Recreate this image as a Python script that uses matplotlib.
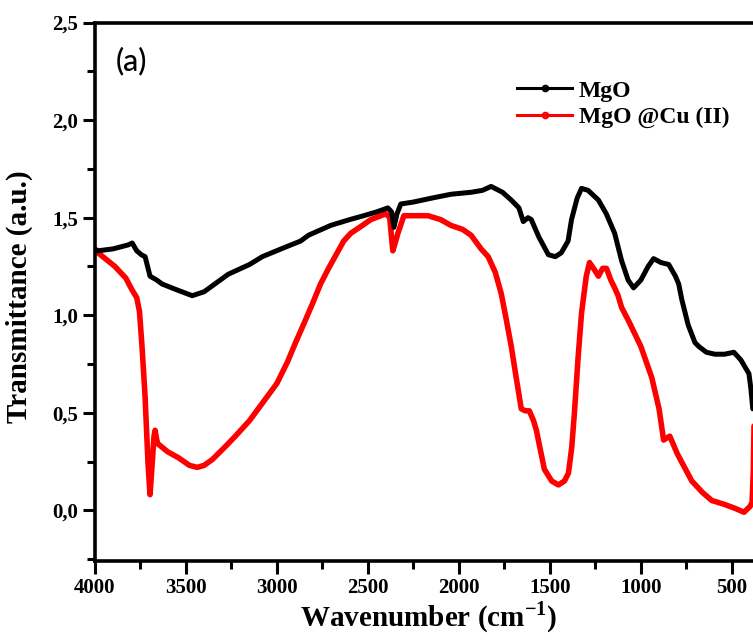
"""FTIR spectra of MgO and MgO@Cu(II), redrawn from the figure (panel a)."""
import matplotlib
matplotlib.use("Agg")
import matplotlib.pyplot as plt
from matplotlib.lines import Line2D
from matplotlib.ticker import MultipleLocator

# values (wavenumber in cm-1, transmittance in a.u.)
mgo_wn = [4000, 3983, 3900, 3818, 3795, 3770, 3745, 3724, 3697, 3660, 3631, 3550,
          3465, 3400, 3267, 3150, 3080, 2950, 2870, 2826, 2705, 2600, 2523, 2450,
          2390, 2370, 2357, 2340, 2319, 2250, 2150, 2043, 1933, 1870, 1823, 1760,
          1712, 1670, 1646, 1620, 1602, 1560, 1508, 1470, 1437, 1400, 1381, 1350,
          1326, 1290, 1233, 1190, 1144, 1106, 1070, 1040, 1000, 960, 930, 890,
          847, 810, 792, 775, 740, 703, 682, 640, 593, 540, 489, 450, 406, 395,
          389, 385]
mgo_t = [1.34, 1.33, 1.34, 1.36, 1.37, 1.33, 1.31, 1.30, 1.20, 1.18, 1.16, 1.13,
         1.10, 1.12, 1.21, 1.26, 1.30, 1.35, 1.38, 1.41, 1.46, 1.49, 1.51, 1.53,
         1.55, 1.53, 1.45, 1.52, 1.57, 1.58, 1.60, 1.62, 1.63, 1.64, 1.66, 1.63,
         1.59, 1.55, 1.48, 1.50, 1.49, 1.40, 1.31, 1.30, 1.32, 1.38, 1.49, 1.60,
         1.65, 1.64, 1.59, 1.52, 1.42, 1.28, 1.18, 1.14, 1.18, 1.25, 1.29, 1.27,
         1.26, 1.20, 1.16, 1.08, 0.95, 0.86, 0.84, 0.81, 0.80, 0.80, 0.81, 0.77,
         0.70, 0.62, 0.56, 0.52]

cu_wn = [4000, 3983, 3890, 3830, 3796, 3770, 3755, 3741, 3724, 3708, 3697, 3688,
         3675, 3669, 3660, 3653, 3600, 3542, 3480, 3438, 3400, 3355, 3290, 3228,
         3150, 3079, 3000, 2942, 2897, 2850, 2804, 2760, 2716, 2633, 2594, 2530,
         2484, 2401, 2380, 2363, 2350, 2335, 2302, 2240, 2170, 2100, 2043, 1980,
         1933, 1878, 1839, 1800, 1767, 1740, 1712, 1685, 1657, 1635, 1613, 1590,
         1574, 1550, 1530, 1490, 1453, 1420, 1398, 1380, 1365, 1345, 1326, 1300,
         1282, 1260, 1233, 1210, 1189, 1165, 1144, 1125, 1106, 1067, 1000, 940,
         900, 875, 841, 800, 720, 660, 610, 540, 483, 433, 400, 389, 382, 378]
cu_t = [1.33, 1.32, 1.25, 1.19, 1.13, 1.09, 1.02, 0.84, 0.58, 0.24, 0.08, 0.20,
        0.38, 0.41, 0.36, 0.34, 0.30, 0.27, 0.23, 0.22, 0.23, 0.26, 0.32, 0.38,
        0.46, 0.55, 0.65, 0.76, 0.86, 0.96, 1.06, 1.16, 1.24, 1.38, 1.42, 1.46,
        1.49, 1.52, 1.50, 1.33, 1.37, 1.42, 1.51, 1.51, 1.51, 1.49, 1.46, 1.44,
        1.41, 1.34, 1.30, 1.22, 1.11, 0.98, 0.84, 0.68, 0.52, 0.51, 0.51, 0.46,
        0.41, 0.30, 0.21, 0.15, 0.13, 0.15, 0.19, 0.32, 0.50, 0.78, 1.01, 1.20,
        1.27, 1.24, 1.20, 1.24, 1.24, 1.18, 1.14, 1.10, 1.04, 0.97, 0.84, 0.68,
        0.52, 0.36, 0.38, 0.29, 0.15, 0.09, 0.05, 0.03, 0.01, -0.01, 0.02, 0.04,
        0.20, 0.45]

xticks = [4000, 3500, 3000, 2500, 2000, 1500, 1000, 500]
yticks = [0.0, 0.5, 1.0, 1.5, 2.0, 2.5]
ytick_labels = ["0,0", "0,5", "1,0", "1,5", "2,0", "2,5"]
series_labels = ["MgO", "MgO @Cu (II)"]

SERIF = "Liberation Serif"
plt.rcParams["font.family"] = [SERIF, "DejaVu Serif"]
plt.rcParams["font.weight"] = "bold"
plt.rcParams["mathtext.fontset"] = "custom"
plt.rcParams["mathtext.rm"] = SERIF + ":bold"
plt.rcParams["mathtext.bf"] = SERIF + ":bold"

fig = plt.figure(figsize=(7.53, 6.41), dpi=100)
# the original picture is cropped on the right, so the axes run past the edge
ax = fig.add_axes([0.126, 0.1248, 0.887, 0.840])

ax.plot(cu_wn, cu_t, color="#ff0000", lw=4.0, zorder=2, solid_capstyle="round")
ax.plot(mgo_wn, mgo_t, color="black", lw=3.6, zorder=3, solid_capstyle="round")

ax.set_xlim(4000, 330)
ax.set_ylim(-0.26, 2.5)
ax.set_xticks(xticks)
ax.set_xticklabels([str(v) for v in xticks])
ax.set_yticks(yticks)
ax.set_yticklabels(ytick_labels)
ax.xaxis.set_minor_locator(MultipleLocator(250))
ax.yaxis.set_minor_locator(MultipleLocator(0.25))

for side in ("left", "bottom", "top"):
    ax.spines[side].set_linewidth(2.6)
ax.spines["right"].set_visible(False)
ax.tick_params(which="major", direction="out", length=9, width=2.2,
               labelsize=15, pad=3, top=False, right=False)
ax.tick_params(which="minor", direction="out", length=5.5, width=2.2,
               top=False, right=False)
for lab in ax.get_xticklabels() + ax.get_yticklabels():
    lab.set_fontweight("bold")

ax.set_xlabel(r"Wavenumber (cm$^{\mathbf{-1}}$)", fontsize=21, fontweight="bold",
              labelpad=1)
ax.set_ylabel("Transmittance (a.u.)", fontsize=21, fontweight="bold")
ax.yaxis.set_label_coords(-0.092, 0.49)

ax.text(0.031, 0.928, "(a)", transform=ax.transAxes, fontsize=22,
        family=["Lato", "DejaVu Sans"], fontweight="medium", ha="left", va="center")

handles = [Line2D([], [], color="black", lw=2.2, marker="o", ms=4, mfc="none", mew=1.5),
           Line2D([], [], color="#ff0000", lw=2.2, marker="o", ms=4, mfc="none", mew=1.5)]
leg = ax.legend(handles, series_labels, loc="upper left", bbox_to_anchor=(0.615, 0.915),
                frameon=False, fontsize=17, handlelength=2.3, handletextpad=0.3,
                labelspacing=0.2, borderpad=0)
for t in leg.get_texts():
    t.set_fontweight("bold")

fig.savefig("out.png", dpi=100)
